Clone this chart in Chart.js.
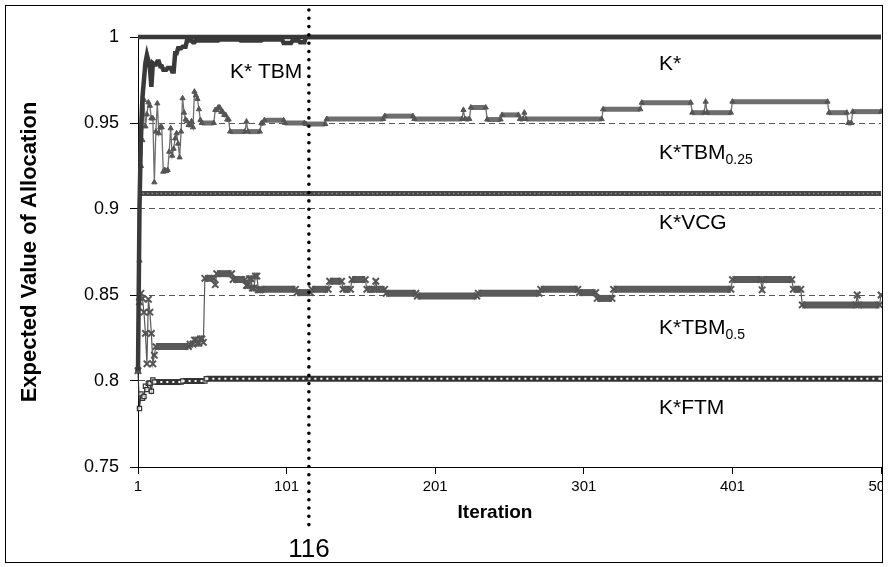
<!DOCTYPE html>
<html><head><meta charset="utf-8">
<script src="https://cdn.jsdelivr.net/npm/chart.js@4/dist/chart.umd.min.js"></script>
<style>html,body{margin:0;padding:0;background:#fff;}canvas{display:block;}</style>
</head><body>
<canvas id="c" width="888" height="567"></canvas>
<script>
// ---- data ----
// Each series is a list of runs: from iteration *Start to iteration *End the value is *Value.
const xTicks = [1, 101, 201, 301, 401, 501];
const yTicks = [0.75, 0.8, 0.85, 0.9, 0.95, 1];
const markerIteration = 116;

const kStarStart = [1];
const kStarEnd   = [501];
const kStarValue = [1];

const vcgStart = [1];
const vcgEnd   = [501];
const vcgValue = [0.909];

const tbmStart = [1, 2, 3, 4, 5, 6, 7, 8, 9, 10, 11, 12, 14, 16, 18, 21, 24, 26, 28, 31, 34, 38, 40, 56, 70, 85, 99, 105, 110, 114];
const tbmEnd   = [1, 2, 3, 4, 5, 6, 7, 8, 9, 10, 11, 13, 15, 17, 20, 23, 25, 27, 30, 33, 37, 39, 55, 69, 84, 98, 104, 109, 113, 501];
const tbmValue = [0.806, 0.90, 0.945, 0.965, 0.975, 0.985, 0.9895, 0.986, 0.982, 0.971, 0.9847, 0.984, 0.9857, 0.983, 0.981, 0.982, 0.980, 0.9905, 0.9934, 0.9944, 0.998, 0.997, 0.998, 0.9985, 0.998, 0.9985, 0.9965, 0.998, 0.997, 1];

const tbm025Start = [1, 2, 3, 4, 5, 6, 7, 8, 9, 10, 11, 12, 13, 14, 15, 16, 17, 18, 19, 20, 21, 22, 23, 24, 25, 26, 27, 28, 29, 30, 31, 32, 33, 34, 35, 37, 38, 39, 40, 41, 42, 43, 44, 53, 55, 57, 59, 61, 63, 74, 75, 84, 86, 100, 114, 128, 167, 187, 220, 221, 225, 236, 246, 258, 261, 262, 314, 340, 374, 383, 384, 401, 466, 479, 482];
const tbm025End   = [1, 2, 3, 4, 5, 6, 7, 8, 9, 10, 11, 12, 13, 14, 15, 16, 17, 18, 19, 20, 21, 22, 23, 24, 25, 26, 27, 28, 29, 30, 31, 32, 33, 34, 36, 37, 38, 39, 40, 41, 42, 43, 52, 54, 56, 58, 60, 62, 73, 74, 83, 85, 99, 113, 127, 166, 186, 219, 220, 224, 235, 245, 257, 260, 261, 313, 339, 373, 382, 383, 400, 465, 478, 481, 501];
const tbm025Value = [0.806, 0.87, 0.925, 0.94, 0.9634, 0.948, 0.955, 0.962, 0.960, 0.9527, 0.9527, 0.9155, 0.945, 0.9614, 0.944, 0.9475, 0.9475, 0.9217, 0.9227, 0.922, 0.9227, 0.9333, 0.9469, 0.931, 0.935, 0.941, 0.944, 0.938, 0.930, 0.945, 0.9644, 0.956, 0.952, 0.951, 0.9488, 0.951, 0.9475, 0.9682, 0.966, 0.964, 0.958, 0.9517, 0.950, 0.9576, 0.959, 0.9565, 0.9547, 0.952, 0.945, 0.9508, 0.945, 0.9498, 0.9516, 0.950, 0.9494, 0.9523, 0.954, 0.9523, 0.9576, 0.9523, 0.959, 0.952, 0.9547, 0.9523, 0.956, 0.9523, 0.958, 0.9618, 0.956, 0.9624, 0.956, 0.9624, 0.956, 0.950, 0.9566];

const tbm05Start = [1, 2, 3, 4, 5, 6, 7, 8, 9, 10, 11, 12, 13, 36, 39, 41, 43, 45, 46, 53, 54, 65, 74, 76, 78, 80, 82, 84, 108, 118, 130, 139, 145, 155, 161, 162, 168, 189, 230, 272, 298, 310, 321, 401, 421, 422, 442, 448, 485, 486, 501];
const tbm05End   = [1, 2, 3, 4, 5, 6, 7, 8, 9, 10, 11, 12, 35, 38, 40, 42, 44, 45, 52, 53, 64, 73, 75, 77, 79, 81, 83, 107, 117, 129, 138, 144, 154, 160, 161, 167, 188, 229, 271, 297, 309, 320, 400, 420, 421, 441, 447, 484, 485, 500, 501];
const tbm05Value = [0.806, 0.846, 0.851, 0.848, 0.840, 0.8277, 0.810, 0.8475, 0.840, 0.8277, 0.810, 0.815, 0.820, 0.8215, 0.8238, 0.822, 0.8245, 0.8225, 0.8597, 0.856, 0.8624, 0.859, 0.8555, 0.8595, 0.854, 0.861, 0.853, 0.8533, 0.8514, 0.8533, 0.858, 0.8533, 0.859, 0.8533, 0.858, 0.8533, 0.851, 0.8494, 0.851, 0.8533, 0.8514, 0.848, 0.8533, 0.859, 0.853, 0.859, 0.8533, 0.8442, 0.850, 0.8442, 0.850];

const ftmStart = [1, 2, 3, 4, 5, 6, 7, 8, 10, 11, 12, 31, 47];
const ftmEnd   = [1, 2, 3, 4, 5, 6, 7, 9, 10, 11, 30, 46, 501];
const ftmValue = [0.806, 0.784, 0.7925, 0.790, 0.791, 0.797, 0.795, 0.7987, 0.794, 0.8006, 0.7994, 0.800, 0.8013];

// ---- helpers ----
const runsToPoints = (s, e, v) => {
  const out = [];
  s.forEach((x, i) => {
    out.push({ x: x, y: v[i] });
    if (e[i] > x) out.push({ x: e[i], y: v[i] });
  });
  return out;
};
const FONT = '"Liberation Sans", Arial, sans-serif';
const isFlat = c => c.p0.parsed.y === c.p1.parsed.y && c.p1.parsed.x - c.p0.parsed.x >= 1;
const bandWidth = (thick, thin) => ({ borderWidth: c => (isFlat(c) ? thick : thin) });
const texture = (color) => ({ borderColor: c => (isFlat(c) && c.p1.parsed.x - c.p0.parsed.x >= 3 ? color : 'rgba(0,0,0,0)') });

const overlay = {
  id: 'overlay',
  afterDatasetsDraw(chart) {
    const ctx = chart.ctx;
    const xs = chart.scales.x;
    const px = xs.getPixelForValue(markerIteration);
    ctx.save();
    ctx.strokeStyle = '#000';
    ctx.lineWidth = 3.6;
    ctx.lineCap = 'round';
    ctx.setLineDash([0, 8.3]);
    ctx.beginPath();
    ctx.moveTo(px, 10);
    ctx.lineTo(px, 525);
    ctx.stroke();
    ctx.setLineDash([]);
    ctx.fillStyle = '#000';
    ctx.textBaseline = 'alphabetic';
    ctx.textAlign = 'left';
    const lab = (x, y, main, sub) => {
      ctx.font = '21px ' + FONT;
      ctx.fillText(main, x, y);
      if (sub) {
        const w = ctx.measureText(main).width;
        ctx.font = '14px ' + FONT;
        ctx.fillText(sub, x + w, y + 5);
      }
    };
    lab(230, 77.5, 'K* TBM');
    lab(659, 69.5, 'K*');
    lab(659, 158.5, 'K*TBM', '0.25');
    lab(659, 228.5, 'K*VCG');
    lab(659, 333.5, 'K*TBM', '0.5');
    lab(659, 413.5, 'K*FTM');
    ctx.textAlign = 'center';
    ctx.font = 'bold 19px ' + FONT;
    ctx.fillText('Iteration', 495, 518);
    ctx.font = '26px ' + FONT;
    ctx.fillText(String(markerIteration), px, 557);
    ctx.restore();
  },
  afterDraw(chart) {
    const ctx = chart.ctx;
    ctx.save();
    ctx.fillStyle = '#fff';
    ctx.fillRect(883, 0, 5, 567);
    ctx.strokeStyle = '#000';
    ctx.lineWidth = 1;
    ctx.strokeRect(5.5, 5.5, 877, 557);
    ctx.restore();
  }
};

const kStarPts = runsToPoints(kStarStart, kStarEnd, kStarValue);
const vcgPts = runsToPoints(vcgStart, vcgEnd, vcgValue);
const ftmPts = runsToPoints(ftmStart, ftmEnd, ftmValue);

new Chart(document.getElementById('c'), {
  type: 'line',
  data: {
    datasets: [
      { label: 'K*', data: kStarPts, borderColor: '#383838', borderWidth: 4.5, pointRadius: 0 },
      { label: 'K* texture', data: kStarPts, borderColor: '#6a6a6a', borderWidth: 1, borderDash: [1.5, 3], pointRadius: 0 },
      { label: 'K* TBM', data: runsToPoints(tbmStart, tbmEnd, tbmValue), borderColor: '#3a3a3a', borderWidth: 4.5, pointRadius: 0 },
      { label: 'K*VCG texture', data: vcgPts, borderColor: '#8a8a8a', borderWidth: 1.5, borderDash: [1.5, 3], pointRadius: 0 },
      { label: 'K*VCG', data: vcgPts, borderColor: '#474747', borderWidth: 5, pointRadius: 0 },
      { label: 'K*TBM0.25', data: runsToPoints(tbm025Start, tbm025End, tbm025Value), borderColor: '#6e6e6e', borderWidth: 1.3, segment: bandWidth(5, 1.3),
        pointStyle: 'triangle', pointRadius: 3, pointBackgroundColor: '#555', pointBorderColor: '#555', pointBorderWidth: 1 },
      { label: 'K*TBM0.5', data: runsToPoints(tbm05Start, tbm05End, tbm05Value), borderColor: '#5a5a5a', borderWidth: 1.2, segment: bandWidth(7, 1.2),
        pointStyle: 'crossRot', pointRadius: 4.5, pointBorderColor: '#555', pointBorderWidth: 2 },
      { label: 'K*FTM texture', data: ftmPts, borderWidth: 2, borderDash: [2, 4], pointRadius: 0, segment: texture('#ffffff') },
      { label: 'K*FTM', data: ftmPts, borderColor: '#333', borderWidth: 1.2, segment: bandWidth(6, 1.2),
        pointStyle: 'rect', pointRadius: 3, pointBackgroundColor: 'rgba(255,255,255,0.7)', pointBorderColor: '#333', pointBorderWidth: 1.2 }
    ]
  },
  options: {
    responsive: false,
    animation: false,
    devicePixelRatio: 1,
    layout: { padding: { top: 37, right: 7, bottom: 0, left: 0 } },
    plugins: { legend: { display: false }, tooltip: { enabled: false } },
    elements: { line: { borderCapStyle: 'butt', borderJoinStyle: 'miter', tension: 0 } },
    datasets: { line: { clip: 10 } },
    scales: {
      x: {
        type: 'linear', min: 1, max: 501,
        afterBuildTicks: s => { s.ticks = xTicks.map(v => ({ value: v })); },
        afterFit: s => { s.height = 100; s.paddingLeft = 0; s.paddingRight = 0; },
        ticks: { color: '#000', font: { family: FONT, size: 15 }, maxRotation: 0, autoSkip: false, padding: 4, callback: v => String(v) },
        grid: { drawOnChartArea: false, drawTicks: true, tickLength: 7, tickColor: '#000' },
        border: { color: '#000', width: 1 },
        title: { display: false }
      },
      y: {
        type: 'linear', min: 0.75, max: 1,
        afterBuildTicks: s => { s.ticks = yTicks.map(v => ({ value: v })); },
        afterFit: s => { s.width = 138; s.paddingTop = 0; s.paddingBottom = 0; },
        ticks: { color: '#000', font: { family: FONT, size: 18 }, padding: 11, callback: v => String(v) },
        grid: {
          color: c => (c.tick && (c.tick.value === 1 || c.tick.value === 0.75)) ? 'rgba(0,0,0,0)' : '#555',
          lineWidth: 1, drawTicks: true, tickLength: 8, tickColor: '#000'
        },
        border: { color: '#000', width: 1, dash: [6, 4] },
        title: { display: true, text: 'Expected Value of Allocation', color: '#000', font: { family: FONT, size: 22, weight: 'bold' }, padding: { top: 17, bottom: 0 } }
      }
    }
  },
  plugins: [overlay]
});
</script>
</body></html>
